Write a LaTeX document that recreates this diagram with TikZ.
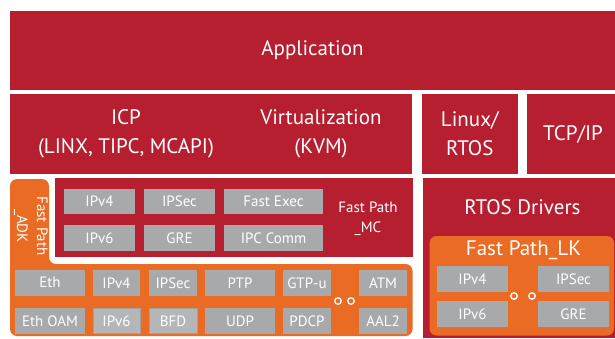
\documentclass[tikz,border=0pt]{standalone}
\usepackage{fontspec}
\setmainfont{PT Sans}
\definecolor{cred}{HTML}{B61F2F}
\definecolor{corange}{HTML}{EA6B24}
\definecolor{cgray}{HTML}{A7A9AB}
\definecolor{cgrayl}{HTML}{B5B6B8}
\definecolor{cgrayd}{HTML}{9FA1A3}
\begin{document}
\begin{tikzpicture}[x=1pt,y=-1pt,
  redbox/.style={fill=cred,draw=none,inner sep=0pt,outer sep=0pt,anchor=north west},
  bigtxt/.style={text=white,font=\fontsize{21}{29.5}\selectfont,align=center,inner sep=0pt},
  midtxt/.style={text=white,font=\fontsize{15}{20}\selectfont,align=center,inner sep=0pt},
  graybox/.style={fill=cgray,draw=none,inner sep=0pt,outer sep=0pt,anchor=north west,
    text=white,font=\fontsize{15}{16}\selectfont,minimum height=25.5pt},
  graybox2/.style={graybox,fill=cgrayl,draw=cgrayd,line width=0.6pt},
  dot/.style={circle,draw=white,fill=corange,line width=1.3pt,minimum size=6.5pt,inner sep=0pt}
]
\useasboundingbox (0,0) rectangle (615,338);
% top rows
\node[redbox,minimum width=605pt,minimum height=79pt] (app) at (10,11) {};
\node[bigtxt] (apptxt) at (app.center) {Application};
\node[redbox,minimum width=402pt,minimum height=80pt] (icp) at (10,93.5) {};
\node[bigtxt] (icptxt) at (126,134) {ICP\\(LINX, TIPC, MCAPI)};
\node[bigtxt] (virt) at (321,134) {Virtualization\\(KVM)};
\node[redbox,minimum width=96.5pt,minimum height=80pt] (linux) at (421.5,93.5) {};
\node[bigtxt] (linuxtxt) at (linux.center) {Linux/\\RTOS};
\node[redbox,minimum width=88pt,minimum height=80pt] (tcp) at (527,93.5) {};
\node[bigtxt] (tcptxt) at (573,134) {TCP/IP};
% Fast Path ADK L shape
\fill[corange,rounded corners=7pt] (10,336) -- (10,179) -- (49,179) -- (49,264) -- (412.5,264) -- (412.5,336) -- cycle;
\node[midtxt,rotate=-90] (adk) at (31,226) {\fontsize{15}{16}\selectfont Fast Path\\\_ADK};
% Fast Path MC
\node[redbox,minimum width=358pt,minimum height=79.5pt] (mc) at (54.5,177.5) {};
\node[midtxt] (mctxt) at (368,219) {Fast Path\\\_MC};
\node[graybox,minimum width=71pt] (mc1) at (64,188.5) {IPv4};
\node[graybox,minimum width=71pt] (mc2) at (144,188.5) {IPSec};
\node[graybox,minimum width=99pt] (mc3) at (224,188.5) {Fast Exec};
\node[graybox,minimum width=71pt] (mc4) at (64,225) {IPv6};
\node[graybox,minimum width=71pt] (mc5) at (144,225) {GRE};
\node[graybox,minimum width=99pt] (mc6) at (224,225) {IPC Comm};
% ADK bottom boxes
\node[graybox,minimum width=70pt] (a1) at (15,270) {Eth};
\node[graybox,minimum width=47pt] (a2) at (93,270) {IPv4};
\node[graybox,minimum width=48pt] (a3) at (149,270) {IPSec};
\node[graybox,minimum width=70pt] (a4) at (205,270) {PTP};
\node[graybox,minimum width=48pt] (a5) at (283,270) {GTP-u};
\node[graybox,minimum width=48pt] (a6) at (359,270) {ATM};
\node[graybox,minimum width=70pt] (b1) at (15,308) {Eth OAM};
\node[graybox2,minimum width=47pt] (b2) at (93,308) {IPv6};
\node[graybox2,minimum width=48pt] (b3) at (149,308) {BFD};
\node[graybox,minimum width=70pt] (b4) at (205,308) {UDP};
\node[graybox,minimum width=48pt] (b5) at (283,308) {PDCP};
\node[graybox,minimum width=48pt] (b6) at (359,308) {AAL2};
\node[dot] (d1) at (338,301) {};
\node[dot] (d2) at (351,301) {};
% RTOS drivers
\node[redbox,minimum width=192.5pt,minimum height=160.5pt] (rtos) at (422.5,177.5) {};
\node[bigtxt] (rtostxt) at (522.5,207) {RTOS Drivers};
\node[redbox,fill=corange,rounded corners=7pt,minimum width=184.5pt,minimum height=99.5pt] (lk) at (429.5,236) {};
\node[bigtxt] (lktxt) at (523.5,250) {Fast Path\_LK};
\node[graybox,minimum width=71pt] (l1) at (437,266) {IPv4};
\node[graybox,minimum width=71pt] (l2) at (538,266) {IPSec};
\node[graybox,minimum width=71pt] (l3) at (437,301) {IPv6};
\node[graybox,minimum width=71pt] (l4) at (538,301) {GRE};
\node[dot] (d3) at (514,296) {};
\node[dot] (d4) at (532,296) {};
\end{tikzpicture}
\end{document}
